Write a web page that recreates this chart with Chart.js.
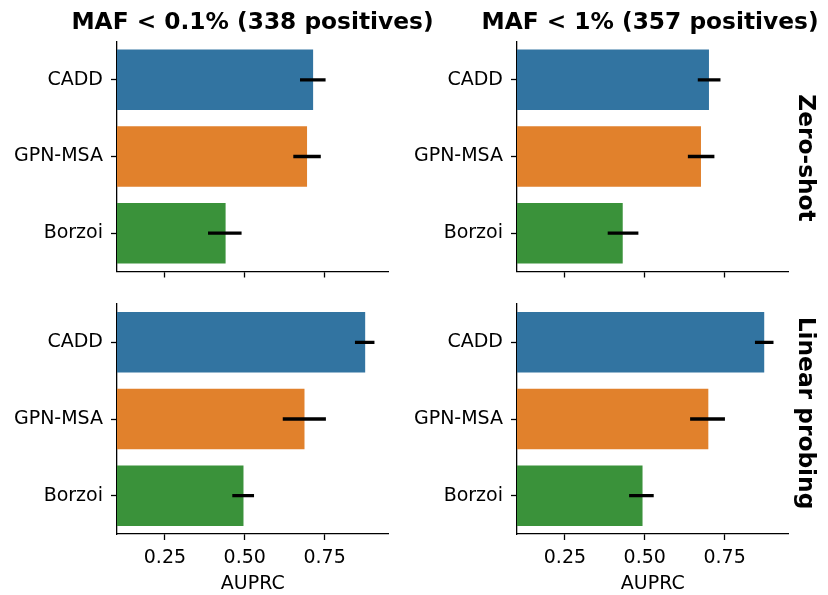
<!DOCTYPE html>
<html>
<head>
<meta charset="utf-8">
<script src="https://cdn.jsdelivr.net/npm/chart.js@4.4.1/dist/chart.umd.min.js"></script>
<style>
  html, body { margin: 0; padding: 0; background: #fff; }
  #stage { position: relative; width: 828px; height: 595px; overflow: hidden; font-family: 'DejaVu Sans', sans-serif; }
  .panel { position: absolute; }
  .col-title, .row-title {
    position: absolute; font-weight: bold; font-size: 23.3px; line-height: 1;
    white-space: nowrap; color: #000;
  }
  .col-title { transform: translate(-50%, -50%); }
  .row-title { transform: translate(-50%, -50%) rotate(90deg); }
</style>
</head>
<body>
<div id="stage">
  <div class="panel" style="left:0;top:0"><canvas id="zsRare" width="400" height="290"></canvas></div>
  <div class="panel" style="left:400px;top:0"><canvas id="zsLow" width="428" height="290"></canvas></div>
  <div class="panel" style="left:0;top:290px"><canvas id="lpRare" width="400" height="305"></canvas></div>
  <div class="panel" style="left:400px;top:290px"><canvas id="lpLow" width="428" height="305"></canvas></div>
  <div class="col-title" id="colTitle0" style="left:252.5px;top:20.5px"></div>
  <div class="col-title" id="colTitle1" style="left:650px;top:20.5px"></div>
  <div class="row-title" id="rowTitle0" style="left:806.5px;top:157.5px"></div>
  <div class="row-title" id="rowTitle1" style="left:806.5px;top:413px"></div>
</div>
<script>
/* AUPRC of three variant-effect predictors, faceted by MAF cutoff (columns)
   and by zero-shot vs linear-probing evaluation (rows). */

const models = ['CADD', 'GPN-MSA', 'Borzoi'];
const barColors = ['#3274a1', '#e1812c', '#3a923a'];
const xTicks = [0.25, 0.5, 0.75];
const colTitles = ['MAF < 0.1% (338 positives)', 'MAF < 1% (357 positives)'];
const rowTitles = ['Zero-shot', 'Linear probing'];

// zero-shot, MAF < 0.1%
const zsRareAuprc = [0.714, 0.695, 0.440];
const zsRareLow   = [0.674, 0.653, 0.386];
const zsRareHigh  = [0.752, 0.737, 0.489];

// zero-shot, MAF < 1%
const zsLowAuprc = [0.701, 0.676, 0.431];
const zsLowLow   = [0.667, 0.636, 0.385];
const zsLowHigh  = [0.736, 0.717, 0.479];

// linear probing, MAF < 0.1%
const lpRareAuprc = [0.877, 0.687, 0.496];
const lpRareLow   = [0.846, 0.620, 0.462];
const lpRareHigh  = [0.905, 0.753, 0.528];

// linear probing, MAF < 1%
const lpLowAuprc = [0.874, 0.699, 0.493];
const lpLowLow   = [0.846, 0.643, 0.452];
const lpLowHigh  = [0.902, 0.750, 0.527];

Chart.defaults.font.family = "'DejaVu Sans', sans-serif";
Chart.defaults.color = '#000';

colTitles.forEach((t, i) => { document.getElementById('colTitle' + i).textContent = t; });
rowTitles.forEach((t, i) => { document.getElementById('rowTitle' + i).textContent = t; });

// drop the label overflow padding so the plot area lands exactly where the frame says
function noOverflow(s) {
  s.paddingTop = 0; s.paddingBottom = 0; s.paddingLeft = 0; s.paddingRight = 0;
}

// yWidth / padTop / padRight / xHeight fix the plot area inside each canvas
function makePanel(id, values, low, high, frame) {
  const axisLine = { color: '#000', width: 1.3 };
  const tickMarks = { drawOnChartArea: false, drawTicks: true, tickLength: 6, tickWidth: 1.3, tickColor: '#000' };
  return new Chart(document.getElementById(id), {
    type: 'bar',
    data: {
      labels: models,
      datasets: [
        {
          label: 'CI',
          data: models.map((_, i) => [low[i], high[i]]),
          backgroundColor: '#000',
          barThickness: 2.7,
          grouped: false,
          order: 0
        },
        {
          label: 'AUPRC',
          data: values,
          backgroundColor: barColors,
          barPercentage: 0.79,
          categoryPercentage: 1,
          grouped: false,
          order: 1
        }
      ]
    },
    options: {
      indexAxis: 'y',
      responsive: false,
      animation: false,
      devicePixelRatio: 1,
      layout: { padding: { top: frame.padTop, right: frame.padRight, left: 0, bottom: 0 } },
      plugins: { legend: { display: false }, tooltip: { enabled: false } },
      scales: {
        x: {
          min: 0.1,
          max: 0.95,
          afterBuildTicks: s => { s.ticks = xTicks.map(v => ({ value: v })); },
          afterFit: s => { s.height = frame.xHeight; noOverflow(s); },
          grid: tickMarks,
          border: axisLine,
          ticks: {
            display: frame.showX,
            font: { size: 19 },
            padding: 7,
            maxRotation: 0,
            callback: v => Number(v).toFixed(2)
          },
          title: { display: frame.showX, text: 'AUPRC', font: { size: 19 }, padding: { top: 2, bottom: 0 } }
        },
        y: {
          afterFit: s => { s.width = frame.yWidth; noOverflow(s); },
          grid: Object.assign({ offset: false }, tickMarks),
          border: axisLine,
          ticks: { font: { size: 19 }, padding: 8 }
        }
      }
    }
  });
}

const Panels = {
  instances: {},
  init() {
    this.instances.zsRare = makePanel('zsRare', zsRareAuprc, zsRareLow, zsRareHigh,
      { yWidth: 117, padTop: 41.5, padRight: 11.5, xHeight: 18.5, showX: false });
    this.instances.zsLow = makePanel('zsLow', zsLowAuprc, zsLowLow, zsLowHigh,
      { yWidth: 117, padTop: 41.5, padRight: 39.5, xHeight: 18.5, showX: false });
    this.instances.lpRare = makePanel('lpRare', lpRareAuprc, lpRareLow, lpRareHigh,
      { yWidth: 117, padTop: 14, padRight: 11.5, xHeight: 61, showX: true });
    this.instances.lpLow = makePanel('lpLow', lpLowAuprc, lpLowLow, lpLowHigh,
      { yWidth: 117, padTop: 14, padRight: 39.5, xHeight: 61, showX: true });
  }
};

Panels.init();
</script>
</body>
</html>
